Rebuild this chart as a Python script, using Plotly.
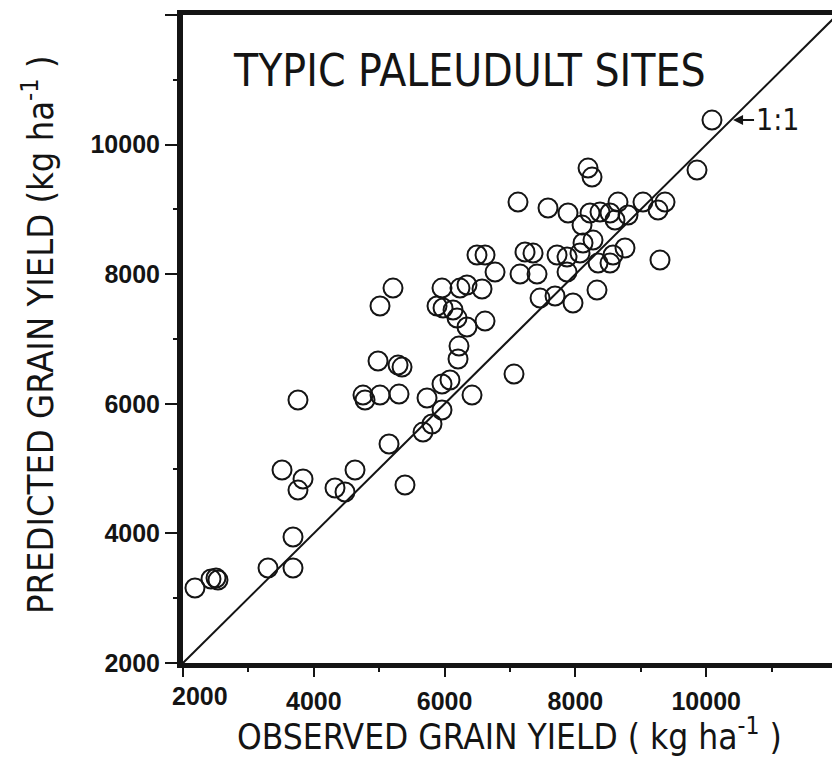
import plotly.graph_objects as go

# Observed vs predicted grain yield (kg/ha)
observed = [2183, 2428, 2505, 2535, 3300, 3682, 3682, 3514, 3835, 3758,
            4324, 4477, 4630, 5394, 5150, 5670, 5807, 5960, 3758, 4752,
            4783, 5012, 5303, 5731, 5960, 6082, 6419, 4982, 5288, 5349,
            6220, 6205, 7061, 5211, 5012, 5960, 6235, 6342, 6572, 5884,
            5976, 6129, 6190, 6342, 6618, 6495, 6618, 6771, 7229, 7352,
            7153, 7413, 7719, 7872, 7872, 7459, 7688, 7963, 7122, 7581,
            7887, 8101, 8223, 8376, 8529, 8651, 8605, 8804, 9033, 9370,
            9263, 8193, 8254, 9859, 10088, 8116, 8070, 8269, 8758, 8346,
            8529, 8575, 9293, 8330]
predicted = [3157, 3296, 3312, 3281, 3466, 3466, 3944, 4978, 4839, 4669,
             4700, 4639, 4978, 4747, 5379, 5564, 5688, 5904, 6058, 6135,
             6058, 6135, 6150, 6089, 6305, 6367, 6135, 6660, 6598, 6567,
             6891, 6691, 6459, 7786, 7509, 7786, 7786, 7833, 7771, 7509,
             7478, 7447, 7323, 7185, 7277, 8296, 8296, 8033, 8342, 8326,
             8002, 8002, 8296, 8265, 8033, 7632, 7663, 7555, 9113, 9021,
             8944, 8758, 8944, 8959, 8944, 9113, 8836, 8913, 9113, 9113,
             8990, 9638, 9499, 9607, 10378, 8481, 8326, 8527, 8404, 8172,
             8172, 8296, 8218, 7755]

one_to_one = [2000, 12000]
y_tickvals = [2000, 4000, 6000, 8000, 10000, 12000]
y_ticktext = ["2000", "4000", "6000", "8000", "10000", " "]
x_tickvals = [2000, 4000, 6000, 8000, 10000]
x_ticktext = [" ", "4000", "6000", "8000", "10000"]

INK = "#141414"
NARROW = "DejaVu Sans Condensed, sans-serif"
tick_font = dict(family="Liberation Sans, Arial, sans-serif", size=25, color=INK, weight="bold")

fig = go.Figure()
fig.add_trace(go.Scatter(x=one_to_one, y=one_to_one, mode="lines",
                         line=dict(color=INK, width=2), hoverinfo="skip",
                         showlegend=False))
fig.add_trace(go.Scatter(x=observed, y=predicted, mode="markers",
                         marker=dict(symbol="circle-open", size=19,
                                     color=INK, line=dict(width=2, color=INK)),
                         showlegend=False))

fig.update_layout(
    width=832, height=760,
    margin=dict(l=183, r=0, t=15, b=97, pad=0),
    paper_bgcolor="white", plot_bgcolor="white",
    xaxis=dict(range=[2000, 11923], showgrid=False, zeroline=False,
               showline=True, linewidth=5, linecolor=INK, mirror=True,
               ticks="outside", ticklen=9, tickwidth=2, tickcolor=INK,
               tickvals=x_tickvals, ticktext=x_ticktext, tickfont=tick_font,
               ticklabelstandoff=3,
               minor=dict(dtick=1000, tick0=1000, ticks="outside", ticklen=4,
                          tickwidth=2, tickcolor=INK)),
    yaxis=dict(range=[2000, 12000], showgrid=False, zeroline=False,
               showline=True, linewidth=6, linecolor=INK,
               ticks="outside", ticklen=12, tickwidth=2, tickcolor=INK,
               tickvals=y_tickvals, ticktext=y_ticktext, tickfont=tick_font,
               minor=dict(dtick=1000, tick0=1000, ticks="outside", ticklen=4,
                          tickwidth=2, tickcolor=INK)),
)

annotations = [
    dict(text="TYPIC PALEUDULT SITES", xref="paper", yref="paper",
         x=0.442, y=0.915, showarrow=False, xanchor="center", yanchor="middle",
         font=dict(family=NARROW, size=44, color=INK)),
    dict(text="OBSERVED GRAIN YIELD ( kg ha<sup>-1</sup> )", xref="paper", yref="paper",
         x=(509 - 183) / 649, y=1 - (759 - 15) / 648, showarrow=False,
         xanchor="center", yanchor="bottom",
         font=dict(family=NARROW, size=35, color=INK)),
    dict(text="PREDICTED GRAIN YIELD (kg ha<sup>-1</sup> )", xref="paper", yref="paper",
         x=(38 - 183) / 649, y=1 - (335 - 15) / 648, showarrow=False,
         xanchor="center", yanchor="middle",
         textangle=-90, font=dict(family=NARROW, size=36, color=INK)),
    dict(text="2000", xref="paper", yref="paper", x=(200 - 183) / 649,
         y=1 - (696 - 15) / 648,
         showarrow=False, xanchor="center", yanchor="middle", font=tick_font),
    dict(text="1:1", x=10410, y=10380, xref="x", yref="y",
         showarrow=True, ax=44, ay=0, arrowhead=2, arrowsize=1, arrowwidth=2,
         arrowcolor=INK, standoff=0,
         font=dict(family=NARROW, size=30, color=INK)),
]
fig.update_layout(annotations=annotations)

fig.write_html("out.html")
